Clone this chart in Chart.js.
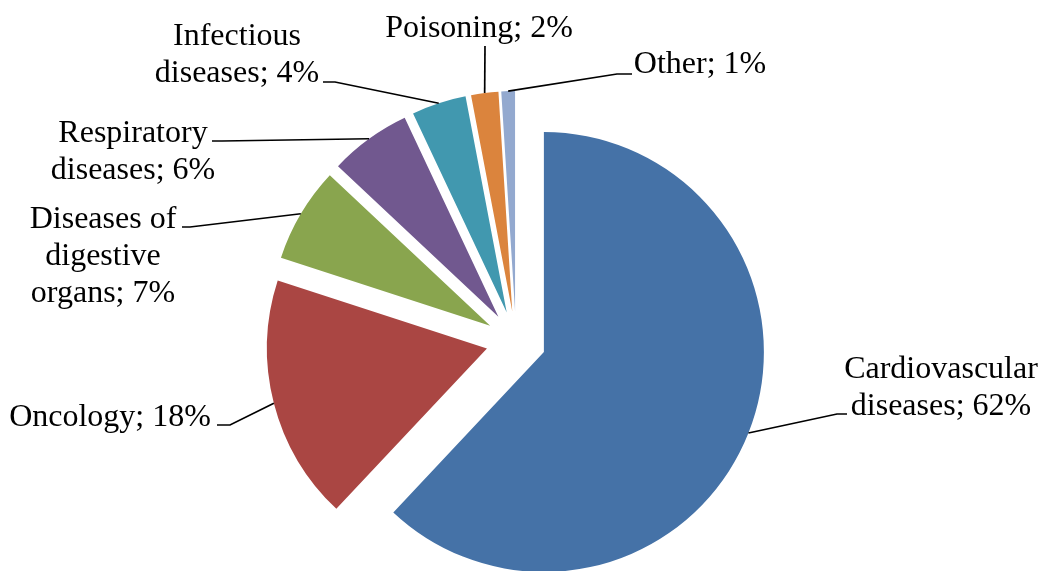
<!DOCTYPE html>
<html><head><meta charset="utf-8">
<script src="https://cdn.jsdelivr.net/npm/chart.js@4.4.0/dist/chart.umd.min.js"></script>
<style>html,body{margin:0;padding:0;background:#fff;overflow:hidden}</style>
</head><body>
<canvas id="c" width="1042" height="571"></canvas>
<script>
const categories = ["Cardiovascular diseases", "Oncology", "Diseases of digestive organs", "Respiratory diseases", "Infectious diseases", "Poisoning", "Other"];
const shares = [62, 18, 7, 6, 4, 2, 1];
const colors = ["#4572A7", "#AA4643", "#89A54E", "#71588F", "#4198AF", "#DB843D", "#93A9CF"];

// label placement (style only): text centre x, first baseline, wrap width, leader elbow & end
const labelLayout = [
  {cx: 941, y: 378, wrap: 205, elbow: [837, 414], end: [847, 414]},
  {cx: 110, y: 426, wrap: 400, elbow: [230, 425], end: [217, 425]},
  {cx: 103, y: 228, wrap: 165, elbow: [190, 227], end: [182, 227]},
  {cx: 133, y: 142, wrap: 175, elbow: [222, 141], end: [212, 141]},
  {cx: 237, y: 45,  wrap: 175, elbow: [335, 82],  end: [323, 82]},
  {cx: 479, y: 37,  wrap: 400, elbow: [485, 46],  end: [485, 46]},
  {cx: 700, y: 73,  wrap: 400, elbow: [617, 74],  end: [632, 74]}
];
const EXPLODE = 30;
const FONT = '32px "Liberation Serif", "Times New Roman", serif';
const LINE_H = 37;

const explodePlugin = {
  id: 'explode',
  afterDatasetsUpdate(chart) {
    const meta = chart.getDatasetMeta(0);
    meta.data.forEach(arc => {
      const mid = (arc.startAngle + arc.endAngle) / 2;
      arc.x += Math.cos(mid) * EXPLODE;
      arc.y += Math.sin(mid) * EXPLODE;
    });
  }
};

function wrapText(ctx, text, maxW) {
  const words = text.split(' ');
  const lines = [];
  let cur = '';
  words.forEach(w => {
    const t = cur ? cur + ' ' + w : w;
    if (cur && ctx.measureText(t).width > maxW) { lines.push(cur); cur = w; }
    else cur = t;
  });
  if (cur) lines.push(cur);
  return lines;
}

const labelPlugin = {
  id: 'pieLabels',
  afterDatasetsDraw(chart) {
    const ctx = chart.ctx;
    const meta = chart.getDatasetMeta(0);
    ctx.save();
    ctx.font = FONT;
    ctx.fillStyle = '#000';
    ctx.strokeStyle = '#000';
    ctx.lineWidth = 1.7;
    meta.data.forEach((arc, i) => {
      const L = labelLayout[i];
      const mid = (arc.startAngle + arc.endAngle) / 2;
      const ax = arc.x + Math.cos(mid) * arc.outerRadius;
      const ay = arc.y + Math.sin(mid) * arc.outerRadius;
      ctx.beginPath();
      ctx.moveTo(ax, ay);
      ctx.lineTo(L.elbow[0], L.elbow[1]);
      ctx.lineTo(L.end[0], L.end[1]);
      ctx.stroke();
      const text = chart.data.labels[i] + '; ' + chart.data.datasets[0].data[i] + '%';
      const lines = wrapText(ctx, text, L.wrap);
      ctx.textAlign = 'center';
      ctx.textBaseline = 'alphabetic';
      lines.forEach((ln, k) => ctx.fillText(ln, L.cx, L.y + k * LINE_H));
    });
    ctx.restore();
  }
};

new Chart(document.getElementById('c'), {
  type: 'pie',
  data: {
    labels: categories,
    datasets: [{
      data: shares,
      backgroundColor: colors,
      borderWidth: 0
    }]
  },
  options: {
    responsive: false,
    animation: false,
    layout: {padding: {left: 296, right: 306, top: 121, bottom: 10}},
    plugins: {legend: {display: false}, tooltip: {enabled: false}}
  },
  plugins: [explodePlugin, labelPlugin]
});
</script>
</body></html>
